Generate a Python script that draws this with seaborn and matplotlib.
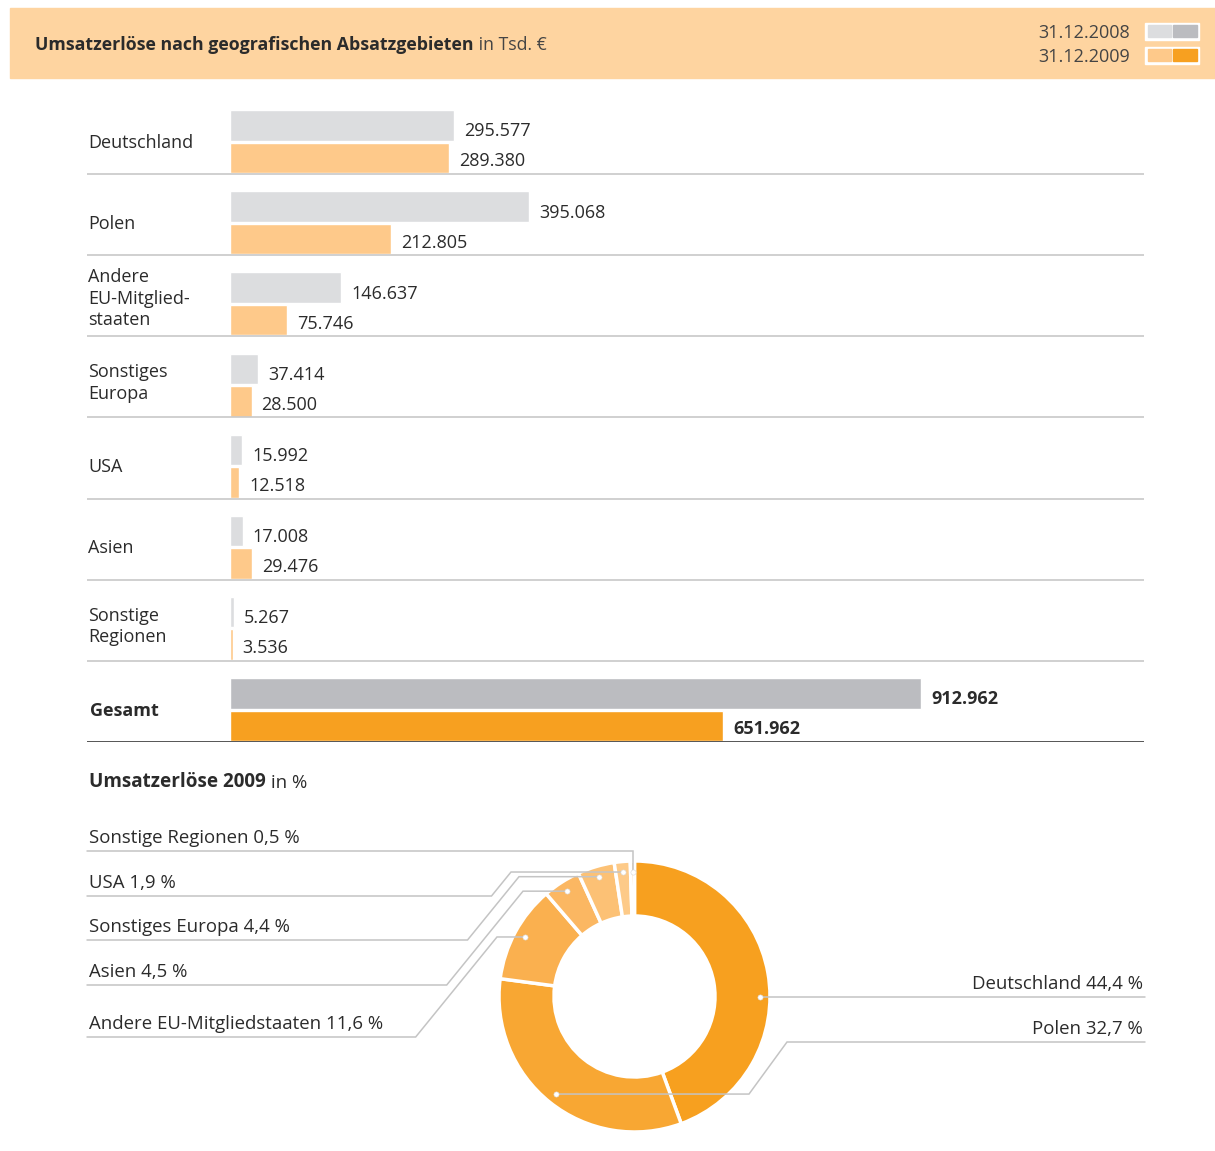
import numpy as np
import pandas as pd
import matplotlib
matplotlib.use("Agg")
import matplotlib.pyplot as plt
import matplotlib.patches as mpatches
import matplotlib.transforms as mtransforms
import seaborn as sns

# ---------------- data ----------------
regions = ["Deutschland", "Polen", "Andere\nEU-Mitglied-\nstaaten", "Sonstiges\nEuropa",
           "USA", "Asien", "Sonstige\nRegionen", "Gesamt"]
years = ["31.12.2008", "31.12.2009"]
values_2008 = [295577, 395068, 146637, 37414, 15992, 17008, 5267, 912962]
values_2009 = [289380, 212805, 75746, 28500, 12518, 29476, 3536, 651962]

pie_labels = ["Deutschland", "Polen", "Andere EU-Mitgliedstaaten", "Asien",
              "Sonstiges Europa", "USA", "Sonstige Regionen"]
pie_pct = [44.4, 32.7, 11.6, 4.5, 4.4, 1.9, 0.5]

title_bold = "Umsatzerlöse nach geografischen Absatzgebieten"
title_unit = " in Tsd. €"
pie_title_bold = "Umsatzerlöse 2009"
pie_title_unit = " in %"

# ---------------- style ----------------
C_HEADER = "#FED4A0"
C_GRAY_L, C_GRAY_D = "#DCDDDF", "#BBBCC0"
C_OR_L, C_OR_D = "#FEC98A", "#F7A020"
C_TEXT = "#2B2B2B"
C_SEP = "#C8C8C8"
C_LEAD = "#C4C4C4"
pie_colors = ["#F7A01F", "#F8A733", "#FAB04F", "#FBB762", "#FCC175", "#FDCA88", "#FED39C"]
FS = 13
FS_PIE = 13.4

sns.set_theme(style="white")
plt.rcParams["font.family"] = ["Open Sans", "DejaVu Sans"]

W, H = 1215, 1151
fig = plt.figure(figsize=(W / 100, H / 100), dpi=100)
fig.patch.set_facecolor("white")


def fx(px):
    return px / W


def fy(py):
    return 1 - py / H


def fmt_de(v):
    return f"{v:,}".replace(",", ".")


# ---------------- bar chart ----------------
BAR_L, BAR_R, BAR_T, BAR_B = 87, 1144, 93, 742
ZERO_X = 230
PX_PER_UNIT = (921 - 230) / 912962
ROW_PX = (BAR_B - BAR_T) / len(regions)

ax = fig.add_axes([fx(BAR_L), fy(BAR_B), (BAR_R - BAR_L) / W, (BAR_B - BAR_T) / H])
df = pd.DataFrame({
    "region": regions * 2,
    "year": [years[0]] * len(regions) + [years[1]] * len(regions),
    "value": values_2008 + values_2009,
})
sns.barplot(data=df, y="region", x="value", hue="year", orient="h",
            palette=[C_GRAY_L, C_OR_L], saturation=1, width=0.8, gap=0.06,
            legend=False, errorbar=None, ax=ax)
for cont, col in zip(ax.containers, [C_GRAY_D, C_OR_D]):
    cont.patches[-1].set_facecolor(col)

ax.set_xlim(-(ZERO_X - BAR_L) / PX_PER_UNIT, (BAR_R - ZERO_X) / PX_PER_UNIT)
ax.set_ylim(len(regions) - 0.6, -0.6)
ax.axis("off")

n = len(regions)
for i in range(n):
    last = i == n - 1
    ax.axhline(i + 0.4, color="#555555" if last else C_SEP, lw=1.4 if last else 1.2, zorder=1)

off = 10 / PX_PER_UNIT
for i, (v8, v9) in enumerate(zip(values_2008, values_2009)):
    w = "bold" if i == n - 1 else "normal"
    ax.text(v8 + off, i - 0.2 + 6 / ROW_PX, fmt_de(v8), va="center", ha="left", fontsize=FS,
            color=C_TEXT, fontweight=w)
    ax.text(v9 + off, i + 0.2 + 3.5 / ROW_PX, fmt_de(v9), va="center", ha="left", fontsize=FS,
            color=C_TEXT, fontweight=w)

blend = mtransforms.blended_transform_factory(ax.transAxes, ax.transData)
for i, lab in enumerate(regions):
    w = "bold" if i == n - 1 else "normal"
    nl = lab.count("\n")
    shift = {0: 1, 1: -2, 2: -5}[nl] / ROW_PX
    ax.text(0.001 if i < n - 1 else 0.003, i + shift, lab, transform=blend, va="center",
            ha="left", fontsize=FS, color=C_TEXT, fontweight=w, linespacing=1.25)

# ---------------- donut ----------------
CX, CY, R_OUT, R_IN = 634.5, 996.5, 135.5, 80.5
axd = fig.add_axes([fx(CX - R_OUT), fy(CY + R_OUT), 2 * R_OUT / W, 2 * R_OUT / H])
axd.pie(pie_pct, colors=pie_colors, startangle=90, counterclock=False, radius=1,
        wedgeprops=dict(width=(R_OUT - R_IN) / R_OUT, edgecolor="white", linewidth=2.5))
axd.set_xlim(-1, 1)
axd.set_ylim(-1, 1)
axd.set_aspect("equal")
axd.axis("off")

# ---------------- overlay (header, legend, leaders) ----------------
ov = fig.add_axes([0, 0, 1, 1])
ov.set_xlim(0, W)
ov.set_ylim(H, 0)
ov.axis("off")
ov.set_zorder(5)

ov.add_patch(mpatches.Rectangle((10, 8), W - 10, 70, color=C_HEADER, zorder=0))
t1 = ov.text(35, 45, title_bold, fontsize=12.8, fontweight="bold", color=C_TEXT,
             va="center", ha="left")
ov.annotate(title_unit, xy=(1, 0), xycoords=t1, va="bottom", ha="left",
            fontsize=12.7, color="#444444")

for k, (yr, cl, cd) in enumerate(zip(years, [C_GRAY_L, C_OR_L], [C_GRAY_D, C_OR_D])):
    yc = 31 + 24 * k
    ov.text(1130, yc + 2, yr, fontsize=FS, color="#444444", ha="right", va="center")
    ov.add_patch(mpatches.Rectangle((1145, yc - 8.5), 54, 17, color="white", zorder=1))
    ov.add_patch(mpatches.Rectangle((1147.5, yc - 6), 23, 12, color=cl, zorder=2))
    ov.add_patch(mpatches.Rectangle((1172.5, yc - 6), 24, 12, color=cd, zorder=2))

t2 = ov.text(89, 782, pie_title_bold, fontsize=13.6, fontweight="bold", color=C_TEXT,
             va="center", ha="left")
ov.annotate(pie_title_unit, xy=(1, 0), xycoords=t2, va="bottom", ha="left",
            fontsize=FS_PIE, color=C_TEXT)

# dot positions from slice mid-angles
cum = np.cumsum([0] + pie_pct[:-1])
mid_angles = 90 - 3.6 * (cum + np.array(pie_pct) / 2)
angle_override = {"Deutschland": 0.0}
R_DOT = 125
dots = {}
for lab, a in zip(pie_labels, mid_angles):
    a = angle_override.get(lab, a)
    dots[lab] = (CX + R_DOT * np.cos(np.radians(a)), CY - R_DOT * np.sin(np.radians(a)))


def pct_text(lab, p):
    return f"{lab} {p:.1f} %".replace(".", ",")


pct_of = dict(zip(pie_labels, pie_pct))
LEAD_KW = dict(color=C_LEAD, lw=1.1, solid_joinstyle="miter", zorder=3)
SLOPE = 1.23
TXT_UP = 13

# left side labels: (label, underline y, x where diagonal meets dot level)
left_layout = [("Sonstige Regionen", 851, None),
               ("USA", 896, 511),
               ("Sonstiges Europa", 940, 519),
               ("Asien", 985, 523),
               ("Andere EU-Mitgliedstaaten", 1037, 497)]
for lab, ly, x2 in left_layout:
    dx, dy = dots[lab]
    if x2 is None:
        xs = [87, dx, dx]
        ys = [ly, ly, dy]
    else:
        x1 = x2 - (ly - dy) / SLOPE
        xs = [87, x1, x2, dx]
        ys = [ly, ly, dy, dy]
    ov.plot(xs, ys, **LEAD_KW)
    ov.text(89, ly - TXT_UP, pct_text(lab, pct_of[lab]), fontsize=FS_PIE, color=C_TEXT,
            ha="left", va="center")

# right side labels
dx, dy = dots["Deutschland"]
ov.plot([dx, 1145], [dy, dy], **LEAD_KW)
ov.text(1143, dy - TXT_UP, pct_text("Deutschland", pct_of["Deutschland"]), fontsize=FS_PIE,
        color=C_TEXT, ha="right", va="center")
dx, dy = dots["Polen"]
ly = 1042
x_top = 787
ov.plot([1145, x_top, x_top - (dy - ly) / 1.37, dx], [ly, ly, dy, dy], **LEAD_KW)
ov.text(1143, ly - TXT_UP, pct_text("Polen", pct_of["Polen"]), fontsize=FS_PIE,
        color=C_TEXT, ha="right", va="center")

dxs = [dots[l][0] for l in pie_labels]
dys = [dots[l][1] for l in pie_labels]
ov.scatter(dxs, dys, s=14, facecolor="white", edgecolor="#D8D8D8", linewidths=0.4, zorder=4)

fig.savefig("out.png", dpi=100)
